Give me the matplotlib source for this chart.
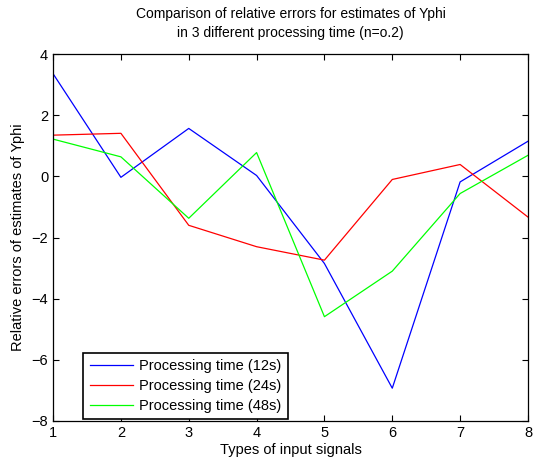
import matplotlib
matplotlib.use('Agg')
import matplotlib.pyplot as plt
import numpy as np

plt.rcParams['font.family'] = ['Liberation Sans', 'DejaVu Sans']

signals = [1, 2, 3, 4, 5, 6, 7, 8]
err_12s = [3.36, -0.03, 1.57, 0.03, -2.85, -6.93, -0.18, 1.15]
err_24s = [1.35, 1.41, -1.60, -2.30, -2.74, -0.10, 0.39, -1.33]
err_48s = [1.22, 0.64, -1.37, 0.78, -4.59, -3.10, -0.56, 0.69]
labels = ['Processing time (12s)', 'Processing time (24s)', 'Processing time (48s)']

fig = plt.figure(figsize=(5.36, 4.59), dpi=100)
ax = fig.add_axes([0.099, 0.083, 0.886, 0.799])

ax.plot(signals, err_12s, color='#0000ff', lw=0.9, label=labels[0])
ax.plot(signals, err_24s, color='#ff0000', lw=0.9, label=labels[1])
ax.plot(signals, err_48s, color='#00ff00', lw=0.9, label=labels[2])

ax.set_xlim(1, 8)
ax.set_ylim(-8, 4)
ax.set_xticks(signals)
ax.set_yticks(np.arange(-8, 5, 2))
ax.tick_params(direction='in', top=True, right=True, labelsize=10.5, length=4)
for s in ax.spines.values():
    s.set_linewidth(0.9)

ax.set_title('Comparison of relative errors for estimates of Yphi\nin 3 different processing time (n=o.2)',
             fontsize=10, pad=12, linespacing=1.5)
ax.set_xlabel('Types of input signals', fontsize=10.5, labelpad=2)
ax.set_ylabel('Relative errors of estimates of Yphi', fontsize=10.5, labelpad=5)

leg = ax.legend(loc='lower left', bbox_to_anchor=(0.06, 0.0), fontsize=10.5, fancybox=False,
                framealpha=1, edgecolor='black', handlelength=3.0, handletextpad=0.4,
                borderpad=0.45, labelspacing=0.4, borderaxespad=0.1)
leg.get_frame().set_linewidth(1.2)

fig.savefig('out.png', dpi=100)
